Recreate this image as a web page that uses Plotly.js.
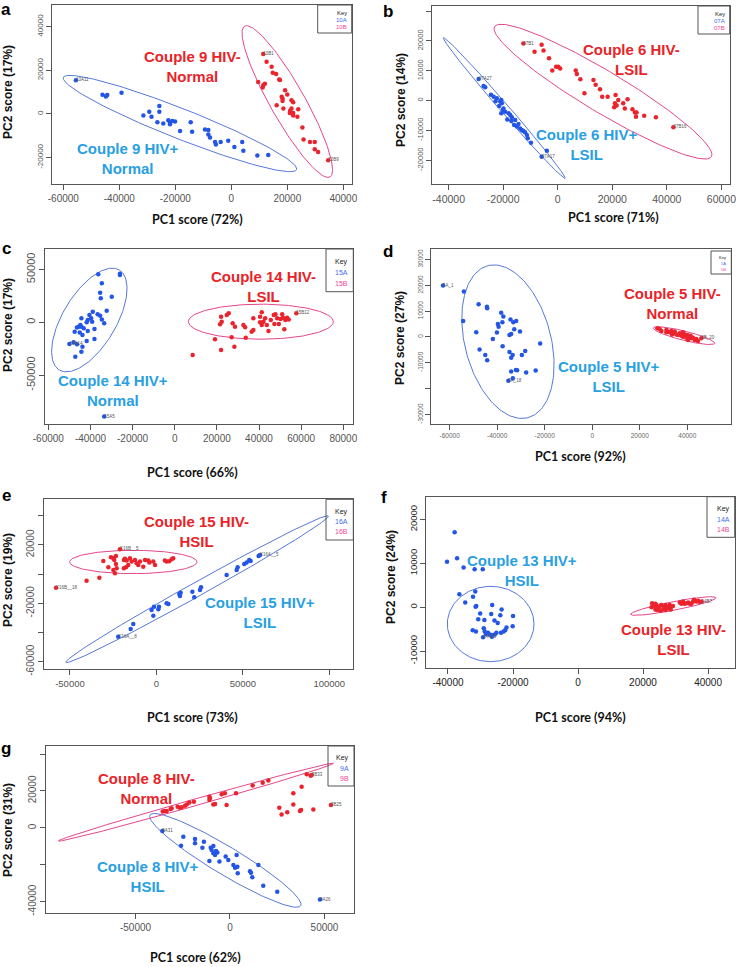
<!DOCTYPE html>
<html>
<head>
<meta charset="utf-8">
<script src="https://cdn.plot.ly/plotly-3.0.1.min.js"></script>
<style>
  body { margin: 0; background: #fff; }
  #plot { width: 738px; height: 967px; }
</style>
</head>
<body>
<div id="plot"></div>
<script>
// ---- panel a : couple 9 (10A = HIV+, 10B = HIV-) ----
const a10A = [[-55500,15500],[-46000,8800],[-44800,8000],[-44300,8700],[-39200,9700],[-25700,3600],[-29300,1000],[-31400,-700],[-28500,-1300],[-25700,1000],[-26400,-3800],[-24300,-4400],[-22500,-2900],[-21900,-3800],[-21100,-3200],[-20100,-3500],[-21900,-4700],[-18300,-7800],[-14500,-3800],[-14000,-8100],[-9400,-7100],[-8200,-7400],[-8200,-9400],[-7600,-10800],[-5800,-12800],[-5500,-14000],[-3800,-12800],[-1100,-12300],[1100,-15100],[3900,-12800],[4300,-16900],[9300,-19100],[13200,-18800]]
const a10B = [[11400,27500],[12600,23900],[14400,21600],[14800,18900],[16000,18300],[17100,15800],[9600,14700],[11400,13200],[12000,13900],[11200,12100],[19200,10900],[18000,7900],[18300,7000],[18300,6000],[21500,6300],[22100,5400],[20000,8900],[16200,4000],[18600,2500],[21500,2500],[23900,2200],[20900,400],[22100,400],[22100,-700],[23600,-1300],[25400,-6200],[25800,-11700],[28100,-12800],[29800,-12800],[29800,-16200],[31000,-17400],[34600,-21200],[17400,15600],[21000,1500]]
const aEllA = [-18330, -4390, 41670, -21120, -1960, -6410]
const aEllB = [20000, 5710, 15240, -34590, 5380, 3920]
const aLabA = {0: '10A11'}
const aLabB = {0: '10B1', 31: '10B9'}

// ---- panel b : couple 6 (07A, 07B) ----
const b07A = [[-29000,7300],[-27200,4900],[-26600,4500],[-23500,1300],[-22300,800],[-21100,-300],[-20700,200],[-20500,-900],[-21500,-1800],[-19900,-2600],[-20100,-3100],[-19300,-3700],[-20700,-4200],[-18000,-4200],[-17400,-4800],[-16800,-5600],[-18500,-6300],[-15600,-6500],[-16000,-8200],[-15000,-8700],[-14400,-7800],[-13800,-9300],[-13200,-9800],[-12600,-10200],[-12000,-10600],[-11300,-11500],[-11000,-12600],[-9800,-14100],[-4000,-16800],[-5900,-18800],[-24500,2000],[-22800,-200],[-17000,-6800]]
const b07B = [[-12600,19200],[-5900,18700],[-8500,16400],[-5200,16800],[-3200,14200],[-2000,10100],[-600,11400],[200,11400],[900,10800],[6600,10100],[7000,8900],[8300,7200],[9800,2500],[13100,6900],[13900,5300],[15500,3800],[16300,1300],[18300,1300],[21200,1900],[21000,-900],[20700,-2200],[21600,-1600],[22200,200],[24000,-900],[25600,500],[24600,-2600],[27400,-2900],[28300,-4000],[28900,-4000],[28700,-5400],[31700,-5100],[36000,-5600],[42400,-8900]]
const bEllA = [-19630, -2460, 22320, -23580, 1200, 950]
const bEllB = [16590, 3020, 39760, -21790, 3880, 5940]
const bLabA = {0: '07A27', 29: '07A17'}
const bLabB = {0: '07B1', 32: '07B16'}

// ---- panel c : couple 14 (15A, 15B) ----
const c15A = [[-36300,45400],[-26000,46000],[-26000,44800],[-34600,36900],[-35400,28100],[-35100,22700],[-29900,24300],[-32300,11000],[-36600,7600],[-35400,6300],[-34600,2800],[-33500,-900],[-38900,10100],[-40500,6900],[-39700,3800],[-41300,2200],[-41800,0],[-39200,600],[-44300,3800],[-44800,-2500],[-45600,-4100],[-46400,-5000],[-44300,-4100],[-43200,-5700],[-47500,-8800],[-45100,-9500],[-43800,-12000],[-41300,-8200],[-38100,-6300],[-41800,-17700],[-38100,-15800],[-48000,-18900],[-50000,-20500],[-46400,-20800],[-43800,-23000],[-44300,-27800],[-47200,-32500],[-33500,-89000]]
const c15B = [[8500,-30900],[19100,-16100],[22000,-26200],[21500,-1900],[22300,600],[22000,5400],[24700,6900],[25600,8500],[27500,-900],[28600,-4100],[27000,-14200],[28300,-23000],[32600,-2500],[33400,-4700],[33700,-14500],[36500,-8800],[37300,-7300],[37300,3800],[40500,5400],[40500,0],[42100,600],[41300,-2500],[41300,9500],[42900,3800],[43700,-2500],[45600,2200],[44500,-8200],[47000,6900],[47800,7600],[48600,3800],[47300,-1600],[49400,-1600],[51000,7600],[51400,4400],[50200,3200],[52000,-6600],[52500,2200],[53300,4400],[54100,2800],[57700,8500]]
const cEllA = [-40540, 2200, 14240, 47320, 10850, -12970]
const cEllB = [40870, 630, 34410, 0, 0, 16560]
const cLabA = {32: '15A14', 37: '15A5'}
const cLabB = {39: '15B12'}

// ---- panel d : couple 5 (5A, 5B) ----
const d5A = [[-62800,19900],[-54000,17600],[-54300,6200],[-48800,1800],[-47800,12700],[-44300,11700],[-44200,11100],[-47400,-4800],[-45000,-7000],[-44200,-9000],[-41800,-800],[-40100,1700],[-39700,5000],[-39400,4000],[-38300,9400],[-37400,7900],[-37800,5700],[-37700,-3600],[-34800,-5800],[-34400,6800],[-33200,5700],[-32000,6200],[-34100,-8000],[-33500,-7000],[-32800,3000],[-34800,800],[-34100,1200],[-34100,-13400],[-32100,-12800],[-31600,-12900],[-30400,2100],[-29600,-7000],[-28200,-5400],[-27800,-13700],[-23800,-13000],[-21900,-2500],[-33400,-16000],[-35300,-16900]]
const d5B = [[27400,3350],[28400,3100],[29100,2300],[31200,2700],[31600,2100],[32600,1800],[33300,2300],[34000,1400],[34700,2100],[35400,1000],[36100,800],[36800,1400],[37500,500],[38200,100],[38900,1000],[39600,-300],[40000,800],[40600,-500],[41000,100],[41700,-500],[42400,-300],[43100,-1200],[43800,-800],[44500,-1600],[31200,1800],[33600,1000],[38200,1800],[41400,500],[40300,-1200],[45900,-500]]
const dEllA = [-35460, -1810, 8420, -29420, 17490, 4230]
const dEllB = [38600, 520, 12900, -2970, 480, 1750]
const dLabA = {0: '5A_1', 37: '5A_18'}
const dLabB = {29: '5B_20'}

// ---- panel e : couple 15 (16A, 16B) ----
const e16A = [[-22100,-42900],[-14900,-37600],[-13400,-34200],[-2800,-24600],[-1400,-22300],[-1800,-28500],[1100,-24100],[1500,-22300],[5900,-20000],[6900,-20500],[13200,-13600],[13600,-15000],[14000,-12700],[20800,-12000],[21900,-15900],[25200,-10900],[25800,-9000],[40600,-600],[46400,2900],[47000,4700],[50800,7000],[52200,7900],[53700,9700],[54500,9000],[59100,12500],[59900,13100]]
const e16B = [[-21100,17000],[-26300,11500],[-24900,10900],[-23400,12500],[-30700,9000],[-27800,4700],[-24400,9700],[-23400,7000],[-24900,2900],[-24000,600],[-23000,4000],[-18800,9700],[-18200,10600],[-17200,9300],[-15300,10900],[-14300,8600],[-16300,6300],[-17600,4700],[-18800,4000],[-12400,9700],[-11400,7400],[-10500,6300],[-9500,8600],[-7600,5100],[-6600,9700],[-4700,9300],[-4100,7900],[-1800,8600],[-800,6300],[4900,9300],[5900,8600],[7400,8800],[8800,10200],[9700,10900],[-33000,-2400],[-40400,-4500],[-58100,-9300]]
const eEllA = [23550, -10290, 75860, 50170, 1970, -4190]
const eEllB = [-13370, 8340, 36820, 0, 0, 8000]
const eLabA = {0: 'X16A__8', 25: 'X16A__5'}
const eLabB = {0: 'X16B__5', 36: 'X16B__18'}

// ---- panel f : couple 13 (14A, 14B) ----
const f14A = [[-37950,17100],[-40300,10400],[-37200,11200],[-35200,9100],[-31800,8700],[-29300,8700],[-36500,3000],[-31600,3600],[-32300,2400],[-34700,1100],[-31300,300],[-31500,150],[-26400,500],[-23500,-500],[-30100,-1400],[-26700,-1500],[-23900,-1800],[-20000,-2000],[-30700,-2700],[-28800,-2900],[-25700,-3000],[-24700,-3600],[-20100,-4300],[-22000,-4600],[-22400,-5200],[-22900,-5500],[-23700,-5800],[-32400,-5200],[-31400,-5500],[-29000,-4800],[-28700,-5500],[-28300,-6100],[-27700,-5800],[-27200,-6200],[-26500,-6300],[-25600,-6200],[-25100,-5800],[-29200,-6800],[-26500,-6700]]
const f14B = [[22600,0],[22800,900],[23400,300],[23800,-500],[24100,500],[24600,0],[25100,150],[25600,500],[26200,-500],[26500,150],[26900,500],[27400,150],[27900,-200],[28200,500],[28700,150],[29200,300],[31300,1100],[31800,800],[32300,1300],[32800,800],[33300,900],[33900,1100],[34400,800],[34900,800],[35400,1300],[35700,1700],[36400,1300],[36900,1500],[37400,1200],[38000,1300],[24400,-600],[25400,-800],[27000,-600],[28500,-500],[23800,800]]
const fEllA = [-26870, -3800, 13330, 0, 0, 8580]
const fEllB = [29330, 300, 13130, 1900, 256, -970]
const fLabA = {37: '14A10'}
const fLabB = {29: '14B7'}

// ---- panel g : couple 8 (9A, 9B) ----
const g9A = [[-35800,-1700],[-24700,-4800],[-25900,-9700],[-18500,-6100],[-18500,-8400],[-13800,-7500],[-14600,-10800],[-10200,-10800],[-9700,-12000],[-8800,-9900],[-8800,-13800],[-7900,-14700],[-7400,-12600],[-6700,-13300],[-10900,-18000],[-5600,-18300],[-2300,-15600],[-900,-17400],[1800,-20200],[2700,-21600],[3900,-21100],[3500,-14700],[4100,-24600],[10600,-23500],[11100,-24400],[11800,-26800],[15000,-20200],[17600,-31400],[25000,-34600],[47600,-38800]]
const g9B = [[-35600,8800],[-34400,9100],[-33500,9100],[-31400,10200],[-30900,10600],[-27700,11500],[-26500,10900],[-25600,11100],[-23800,12000],[-22900,12700],[-21500,13800],[-19100,14200],[-10900,15100],[-10900,16900],[-10600,16000],[-8800,12700],[-7900,12900],[-4400,18200],[-2700,18700],[-1800,12400],[3200,18700],[12000,22900],[17300,24500],[20300,25600],[26100,10900],[27300,7300],[30300,8400],[33500,18700],[33500,12700],[37900,22300],[37000,9100],[37600,9700],[44100,10000],[40600,29000],[43200,28600],[42700,28300],[53400,12400]]
const gEllA = [-2470, -17620, 39860, -24580, 3830, 6510]
const gEllB = [-18080, 13920, 72750, 21060, 480, -1740]
const gLabA = {0: '9A31', 29: '9A26'}
const gLabB = {34: '9B33', 36: '9B25'}

const W = 738, H = 967
const BLUE_PT = 'rgb(35,85,230)', RED_PT = 'rgb(235,35,45)'
const BLUE_ELL = 'rgb(85,120,215)', PINK_ELL = 'rgb(228,70,140)'
const BLUE_TXT = 'rgb(40,160,226)', RED_TXT = 'rgb(233,35,40)'
const KEY_BLUE = 'rgb(70,110,240)', KEY_PINK = 'rgb(240,70,150)'
const SANS = 'Liberation Sans, Arial, sans-serif'

const panels = [
  { tag: 'a', box: [51.7, 5, 351.7, 184.3], xr: [-64143, 43000], yr: [-32250, 49960],
    xt: [-60000, -40000, -20000, 0, 20000, 40000], yt: [-20000, 0, 20000, 40000], ytHide: [],
    A: a10A, B: a10B, eA: aEllA, eB: aEllB, lA: aLabA, lB: aLabB, keys: ['10A', '10B'],
    xtf: 10, ytf: 8, tc: '#555', pct: ['72%', '17%'],
    red: { t: 'Couple 9 HIV-<br>Normal', x: -13810, y: 21630 }, blue: { t: 'Couple 9 HIV+<br>Normal', x: -36790, y: -20460 },
    letter: [6, 9], xtitle: [197, 220], ytitle: [8, 92], key: [317.7, 5, 351.7, 33, 6] },
  { tag: 'b', box: [432, 6, 729.7, 184.3], xr: [-46100, 63050], yr: [-28040, 31730],
    xt: [-40000, -20000, 0, 20000, 40000, 60000], yt: [-20000, -10000, 0, 10000, 20000, 30000], ytHide: [],
    A: b07A, B: b07B, eA: bEllA, eB: bEllB, lA: bLabA, lB: bLabB, keys: ['07A', '07B'],
    xtf: 10.5, ytf: 7.5, tc: '#555', pct: ['71%', '14%'],
    red: { t: 'Couple 6 HIV-<br>LSIL', x: 27070, y: 13630 }, blue: { t: 'Couple 6 HIV+<br>LSIL', x: 10610, y: -14860 },
    letter: [388, 11], xtitle: [613, 218], ytitle: [401, 100], key: [698, 6, 729.7, 34, 6] },
  { tag: 'c', box: [45, 249, 353.3, 424], xr: [-61580, 84750], yr: [-96200, 69400],
    xt: [-60000, -40000, -20000, 0, 20000, 40000, 60000, 80000], yt: [-50000, 0, 50000], ytHide: [],
    A: c15A, B: c15B, eA: cEllA, eB: cEllB, lA: cLabA, lB: cLabB, keys: ['15A', '15B'],
    xtf: 10, ytf: 11, tc: '#555', pct: ['66%', '17%'],
    red: { t: 'Couple 14 HIV-<br>LSIL', x: 42060, y: 33750 }, blue: { t: 'Couple 14 HIV+<br>Normal', x: -29150, y: -64670 },
    letter: [6, 248], xtitle: [192, 472], ytitle: [8, 325], key: [326, 249, 353.3, 291.7, 7] },
  { tag: 'd', box: [431.3, 249, 731.3, 424], xr: [-67710, 58510], yr: [-33680, 34060],
    xt: [-60000, -40000, -20000, 0, 20000, 40000], yt: [-30000, -20000, -10000, 0, 10000, 20000, 30000], ytHide: [-20000],
    A: d5A, B: d5B, eA: dEllA, eB: dEllB, lA: dLabA, lB: dLabB, keys: ['5A', '5B'],
    xtf: 6.5, ytf: 6.5, tc: '#666', pct: ['92%', '27%'],
    red: { t: 'Couple 5 HIV-<br>Normal', x: 33970, y: 13030 }, blue: { t: 'Couple 5 HIV+<br>LSIL', x: 7040, y: -15350 },
    letter: [388, 251], xtitle: [580, 457], ytitle: [400, 338], key: [711, 251, 731.3, 274, 4] },
  { tag: 'e', box: [44.3, 499.3, 353.3, 669.3], xr: [-64850, 113880], yr: [-65260, 51310],
    xt: [-50000, 0, 50000, 100000], yt: [-60000, -40000, -20000, 0, 20000, 40000], ytHide: [-40000, 0, 40000],
    A: e16A, B: e16B, eA: eEllA, eB: eEllB, lA: eLabA, lB: eLabB, keys: ['16A', '16B'],
    xtf: 9.5, ytf: 10, tc: '#555', pct: ['73%', '19%'],
    red: { t: 'Couple 15 HIV-<br>HSIL', x: 23260, y: 29140 }, blue: { t: 'Couple 15 HIV+<br>LSIL', x: 59890, y: -26400 },
    letter: [6, 495], xtitle: [192, 717], ytitle: [8, 580], key: [326, 499.3, 353.3, 540, 7] },
  { tag: 'f', box: [426.3, 496.7, 734.7, 668.3], xr: [-46670, 48200], yr: [-13900, 25210],
    xt: [-40000, -20000, 0, 20000, 40000], yt: [-10000, 0, 10000, 20000], ytHide: [],
    A: f14A, B: f14B, eA: fEllA, eB: fEllB, lA: fLabA, lB: fLabB, keys: ['14A', '14B'],
    xtf: 10, ytf: 9.5, tc: '#222', pct: ['94%', '24%'],
    red: { t: 'Couple 13 HIV-<br>LSIL', x: 29230, y: -7290 }, blue: { t: 'Couple 13 HIV+<br>HSIL', x: -17230, y: 8350 },
    letter: [384, 497], xtitle: [580, 717], ytitle: [391, 577], key: [707, 496.7, 734.7, 537.3, 7] },
  { tag: 'g', box: [46, 746, 354, 912.7], xr: [-97350, 65610], yr: [-46000, 44370],
    xt: [-50000, 0, 50000], yt: [-40000, -20000, 0, 20000, 40000], ytHide: [-20000, 40000],
    A: g9A, B: g9B, eA: gEllA, eB: gEllB, lA: gLabA, lB: gLabB, keys: ['9A', '9B'],
    xtf: 10, ytf: 10, tc: '#555', pct: ['62%', '31%'],
    red: { t: 'Couple 8 HIV-<br>Normal', x: -44090, y: 21420 }, blue: { t: 'Couple 8 HIV+<br>HSIL', x: -43210, y: -26480 },
    letter: [6, 748], xtitle: [195, 957], ytitle: [8, 830], key: [328, 746, 354, 786, 7] }
]

function ellipse(e) {
  const xs = [], ys = []
  for (let i = 0; i <= 160; i++) {
    const t = i / 160 * 2 * Math.PI
    xs.push(e[0] + e[2] * Math.cos(t) + e[4] * Math.sin(t))
    ys.push(e[1] + e[3] * Math.cos(t) + e[5] * Math.sin(t))
  }
  return { xs, ys }
}

const px = x => x / W
const py = y => 1 - y / H

const traces = []
const annotations = []
const shapes = []
const layout = {
  width: W, height: H,
  margin: { l: 0, r: 0, t: 0, b: 0 },
  paper_bgcolor: '#fff', plot_bgcolor: '#fff',
  showlegend: false,
  font: { family: SANS }
}

// text placed in page pixels, always centred on the given point
function paperText(x, y, text, font, extra) {
  annotations.push(Object.assign({ xref: 'paper', yref: 'paper', x: px(x), y: py(y), text: text,
    showarrow: false, xanchor: 'center', yanchor: 'middle', font: font }, extra || {}))
}

panels.forEach(function (p, i) {
  const s = i === 0 ? '' : String(i + 1)
  const xa = 'x' + s, ya = 'y' + s

  const eA = ellipse(p.eA), eB = ellipse(p.eB)
  traces.push({ x: eA.xs, y: eA.ys, xaxis: xa, yaxis: ya, mode: 'lines', line: { color: BLUE_ELL, width: 1 }, hoverinfo: 'skip' })
  traces.push({ x: eB.xs, y: eB.ys, xaxis: xa, yaxis: ya, mode: 'lines', line: { color: PINK_ELL, width: 1 }, hoverinfo: 'skip' })
  traces.push({ x: p.A.map(d => d[0]), y: p.A.map(d => d[1]), xaxis: xa, yaxis: ya, mode: 'markers', name: p.keys[0],
    marker: { color: BLUE_PT, size: 4.5 } })
  traces.push({ x: p.B.map(d => d[0]), y: p.B.map(d => d[1]), xaxis: xa, yaxis: ya, mode: 'markers', name: p.keys[1],
    marker: { color: RED_PT, size: 4.5 } })

  // small sample labels next to some points
  const lx = [], ly = [], lt = []
  Object.keys(p.lA).forEach(k => { lx.push(p.A[k][0]); ly.push(p.A[k][1]); lt.push(p.lA[k]) })
  Object.keys(p.lB).forEach(k => { lx.push(p.B[k][0]); ly.push(p.B[k][1]); lt.push(p.lB[k]) })
  traces.push({ x: lx, y: ly, text: lt, xaxis: xa, yaxis: ya, mode: 'text', textposition: 'middle right',
    textfont: { size: 4.5, color: '#555' }, hoverinfo: 'skip' })

  const axisBase = {
    ticks: 'outside', ticklen: 5, tickwidth: 1, tickcolor: '#555',
    showline: true, mirror: true, linecolor: '#555', linewidth: 1,
    showgrid: false, zeroline: false
  }
  layout['xaxis' + s] = Object.assign({}, axisBase, {
    domain: [px(p.box[0]), px(p.box[2])], range: p.xr, anchor: ya,
    tickmode: 'array', tickvals: p.xt, ticktext: p.xt.map(String),
    tickfont: { size: p.xtf, color: p.tc, family: SANS }
  })
  layout['yaxis' + s] = Object.assign({}, axisBase, {
    domain: [py(p.box[3]), py(p.box[1])], range: p.yr, anchor: xa,
    tickmode: 'array', tickvals: p.yt, ticktext: p.yt.map(v => p.ytHide.indexOf(v) >= 0 ? '' : String(v)),
    tickangle: -90, tickfont: { size: p.ytf, color: p.tc, family: SANS }
  })

  // group labels
  annotations.push({ xref: xa, yref: ya, x: p.red.x, y: p.red.y, text: '<b>' + p.red.t + '</b>', showarrow: false,
    xanchor: 'center', yanchor: 'middle', font: { size: 15, color: RED_TXT, family: SANS }, align: 'center' })
  annotations.push({ xref: xa, yref: ya, x: p.blue.x, y: p.blue.y, text: '<b>' + p.blue.t + '</b>', showarrow: false,
    xanchor: 'center', yanchor: 'middle', font: { size: 15, color: BLUE_TXT, family: SANS }, align: 'center' })

  // panel letter and axis titles
  paperText(p.letter[0], p.letter[1], '<b>' + p.tag + '</b>', { size: 17, color: '#000', family: SANS })
  paperText(p.xtitle[0], p.xtitle[1], '<b>PC1 score (' + p.pct[0] + ')</b>', { size: 12.5, color: '#111', family: 'Lato, sans-serif' })
  paperText(p.ytitle[0], p.ytitle[1], '<b>PC2 score (' + p.pct[1] + ')</b>', { size: 12, color: '#111', family: SANS }, { textangle: -90 })

  // key box
  const k = p.key
  shapes.push({ type: 'rect', xref: 'paper', yref: 'paper', x0: px(k[0]), x1: px(k[2]), y0: py(k[3]), y1: py(k[1]),
    line: { color: '#555', width: 1 }, fillcolor: 'rgba(255,255,255,0)' })
  const kh = k[3] - k[1]
  const kt = [['Key', '#222'], [p.keys[0], KEY_BLUE], [p.keys[1], KEY_PINK]]
  kt.forEach(function (row, j) {
    paperText(k[2] - 3, k[1] + kh * (0.3 + 0.25 * j), row[0], { size: k[4], color: row[1], family: SANS }, { xanchor: 'right' })
  })
})

layout.annotations = annotations
layout.shapes = shapes

Plotly.newPlot('plot', traces, layout, { staticPlot: true })
</script>
</body>
</html>
